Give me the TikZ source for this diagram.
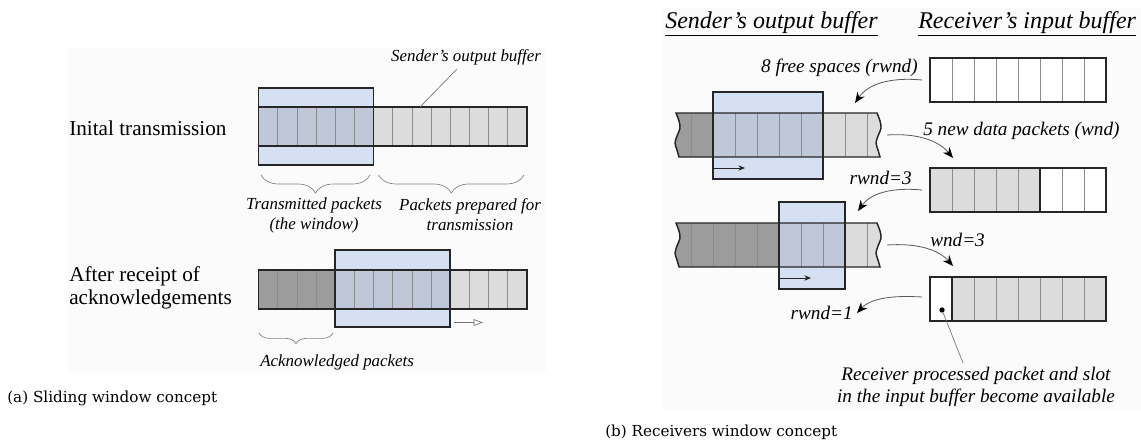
\documentclass[tikz,border=0pt]{standalone}
\usepackage{fontspec}
\setmainfont{Liberation Serif}
\newfontfamily\capfont{DejaVu Serif}
\usetikzlibrary{arrows.meta,decorations.pathreplacing}

\definecolor{winblue}{RGB}{214,224,243}
\definecolor{winover}{RGB}{192,199,217}
\definecolor{cellgray}{RGB}{220,220,220}
\definecolor{celldark}{RGB}{156,156,156}
\definecolor{panelbg}{RGB}{251,251,251}

\begin{document}
\begin{tikzpicture}[x=0.75pt,y=-0.75pt,
  outline/.style={draw=black!85,line width=1.1pt},
  gridline/.style={draw=black!45,line width=0.5pt},
  leader/.style={draw=black!55,line width=0.5pt},
  lbl/.style={inner sep=0pt,font=\fontsize{12.7}{15}\selectfont\itshape},
  rlbl/.style={inner sep=0pt,font=\fontsize{14.4}{16.5}\selectfont\itshape},
  big/.style={inner sep=0pt,font=\fontsize{15.9}{17.3}\selectfont},
  ttl/.style={inner sep=0pt,font=\fontsize{18}{20}\selectfont\itshape},
  captext/.style={inner sep=0pt,font=\capfont\fontsize{11.4}{13}\selectfont},
  curvearrow/.style={draw=black!65,line width=0.6pt,-{Stealth[length=8pt,width=6.5pt,black]}},
  slidearrow/.style={draw=black!85,line width=0.6pt,-{Stealth[length=5pt,width=4pt]}},
  brc/.style={draw=black!50,line width=0.5pt,decorate,decoration={brace,mirror,amplitude=#1}}]
  \useasboundingbox (0,0) rectangle (1141,443);

  % (a) sliding window
  \fill[panelbg] (68,48) rectangle (546,372);
  \node[big,anchor=west] (init) at (69,128) {Inital transmission};
  \node[big,anchor=west,align=left] (after) at (69,288) {After receipt of\\acknowledgements};

  \fill[winblue] (258.6,88) rectangle (373.6,165);
  \fill[winover] (258.6,107) rectangle (373.6,146);
  \fill[cellgray] (373.6,107) rectangle (526.8,146);
  \foreach \i in {1,...,13} \draw[gridline] ({258.6+19.16*\i},107) -- ++(0,39);
  \draw[outline] (258.6,107) rectangle (526.8,146);
  \draw[outline] (258.6,88) rectangle (373.6,165);

  \node[lbl] (sob) at (466,57) {Sender's output buffer};
  \coordinate (sobA) at (457,69);
  \coordinate (sobB) at (420,107);
  \draw[leader] (sobA) -- (sobB);

  \draw[brc=13.5pt] (261,175) -- (370,175);
  \draw[brc=13.5pt] (378.6,175) -- (524,175);
  \node[lbl,align=center] (sent) at (314,215) {Transmitted packets\\(the window)};
  \node[lbl,align=center] (ready) at (470,215) {Packets prepared for\\transmission};

  \fill[winblue] (335.2,250) rectangle (450.2,327);
  \fill[celldark] (258.6,270) rectangle (335.2,309);
  \fill[winover] (335.2,270) rectangle (450.2,309);
  \fill[cellgray] (450.2,270) rectangle (526.8,309);
  \foreach \i in {1,...,13} \draw[gridline] ({258.6+19.16*\i},270) -- ++(0,39);
  \draw[outline] (258.6,270) rectangle (526.8,309);
  \draw[outline] (335.2,250) rectangle (450.2,327);
  \coordinate (mvA) at (454,322.5);
  \coordinate (mvB) at (483,322.5);
  \draw[draw=black!55,line width=0.5pt,-{Triangle[open,length=7pt,width=5pt]}] (mvA) -- (mvB);

  \draw[brc=8pt] (259,333) -- (333,333);
  \node[lbl,anchor=west] (ack) at (260,362) {Acknowledged packets};

  \node[captext,anchor=west] (capa) at (7,398) {(a) Sliding window concept};

  % (b) receivers window
  \fill[panelbg] (663,8) rectangle (1141,410);
  \node[ttl,anchor=west] (sndt) at (665,24) {\underline{Sender's output buffer}};
  \node[ttl,anchor=west] (rcvt) at (918,24) {\underline{Receiver's input buffer}};

  \foreach \y/\a/\b in {113/713/823, 223/779/845} {
    \fill[cellgray] plot[smooth] coordinates {(676,\y) (679,\y+8) (680,\y+15) (677,\y+23) (675,\y+30) (677,\y+37) (679,\y+44)}
      -- plot[smooth] coordinates {(880,\y+44) (878,\y+37) (876,\y+30) (878,\y+23) (881,\y+15) (880,\y+8) (877,\y)} -- cycle;
    \fill[celldark] plot[smooth] coordinates {(676,\y) (679,\y+8) (680,\y+15) (677,\y+23) (675,\y+30) (677,\y+37) (679,\y+44)}
      -- (\a,\y+44) -- (\a,\y) -- cycle;
    \fill[winblue] (\a,\y-21) rectangle (\b,\y+66);
    \fill[winover] (\a,\y) rectangle (\b,\y+44);
    \foreach \i in {0,...,8} \draw[gridline] ({691+22*\i},\y) -- ++(0,44);
    \draw[outline] plot[smooth] coordinates {(676,\y) (679,\y+8) (680,\y+15) (677,\y+23) (675,\y+30) (677,\y+37) (679,\y+44)}
      -- plot[smooth] coordinates {(880,\y+44) (878,\y+37) (876,\y+30) (878,\y+23) (881,\y+15) (880,\y+8) (877,\y)} -- cycle;
    \draw[outline] (\a,\y-21) rectangle (\b,\y+66);
    \draw[slidearrow] (\a,\y+55) -- ++(32,0);
  }

  \fill[white] (930,58) rectangle (1106,102);
  \fill[cellgray] (930,168) rectangle (1040,212);
  \fill[white] (1040,168) rectangle (1106,212);
  \fill[white] (930,277) rectangle (952,321);
  \fill[cellgray] (952,277) rectangle (1106,321);
  \foreach \y in {58,168,277} {
    \foreach \i in {1,...,7} \draw[gridline] ({930+22*\i},\y) -- ++(0,44);
    \draw[outline] (930,\y) rectangle (1106,\y+44);
  }
  \draw[outline] (1040,168) -- (1040,212);
  \draw[outline] (952,277) -- (952,321);

  \node[rlbl,anchor=east] (free) at (918,68) {8 free spaces (rwnd)};
  \node[rlbl,anchor=west] (wnd5) at (923,131) {5 new data packets (wnd)};
  \node[rlbl,anchor=east] (rw3) at (912,178) {rwnd=3};
  \node[rlbl,anchor=west] (wnd3) at (930,240) {wnd=3};
  \node[rlbl,anchor=east] (rw1) at (853,313) {rwnd=1};

  \coordinate (fA) at (922,80);   \coordinate (fB) at (855,103);
  \coordinate (nA) at (887,135);  \coordinate (nB) at (953,158);
  \coordinate (rA) at (922,190);  \coordinate (rB) at (858,211);
  \coordinate (wA) at (887,245);  \coordinate (wB) at (953,266);
  \coordinate (oA) at (922,297);  \coordinate (oB) at (857,313);
  \draw[curvearrow] (fA) .. controls (890,77) and (868,84) .. (fB);
  \draw[curvearrow] (nA) .. controls (916,133) and (938,140) .. (nB);
  \draw[curvearrow] (rA) .. controls (890,187) and (870,194) .. (rB);
  \draw[curvearrow] (wA) .. controls (916,243) and (938,249) .. (wB);
  \draw[curvearrow] (oA) .. controls (890,295) and (870,299) .. (oB);

  \node[fill=black,circle,inner sep=0pt,minimum size=4pt] (dot) at (942,310) {};
  \node[rlbl,align=center] (freed) at (976,387) {Receiver processed packet and slot\\in the input buffer become available};
  \coordinate (dotB) at (963,363);
  \draw[leader] (dot) -- (dotB);

  \node[captext,anchor=west] (capb) at (605,432) {(b) Receivers window concept};
\end{tikzpicture}
\end{document}
